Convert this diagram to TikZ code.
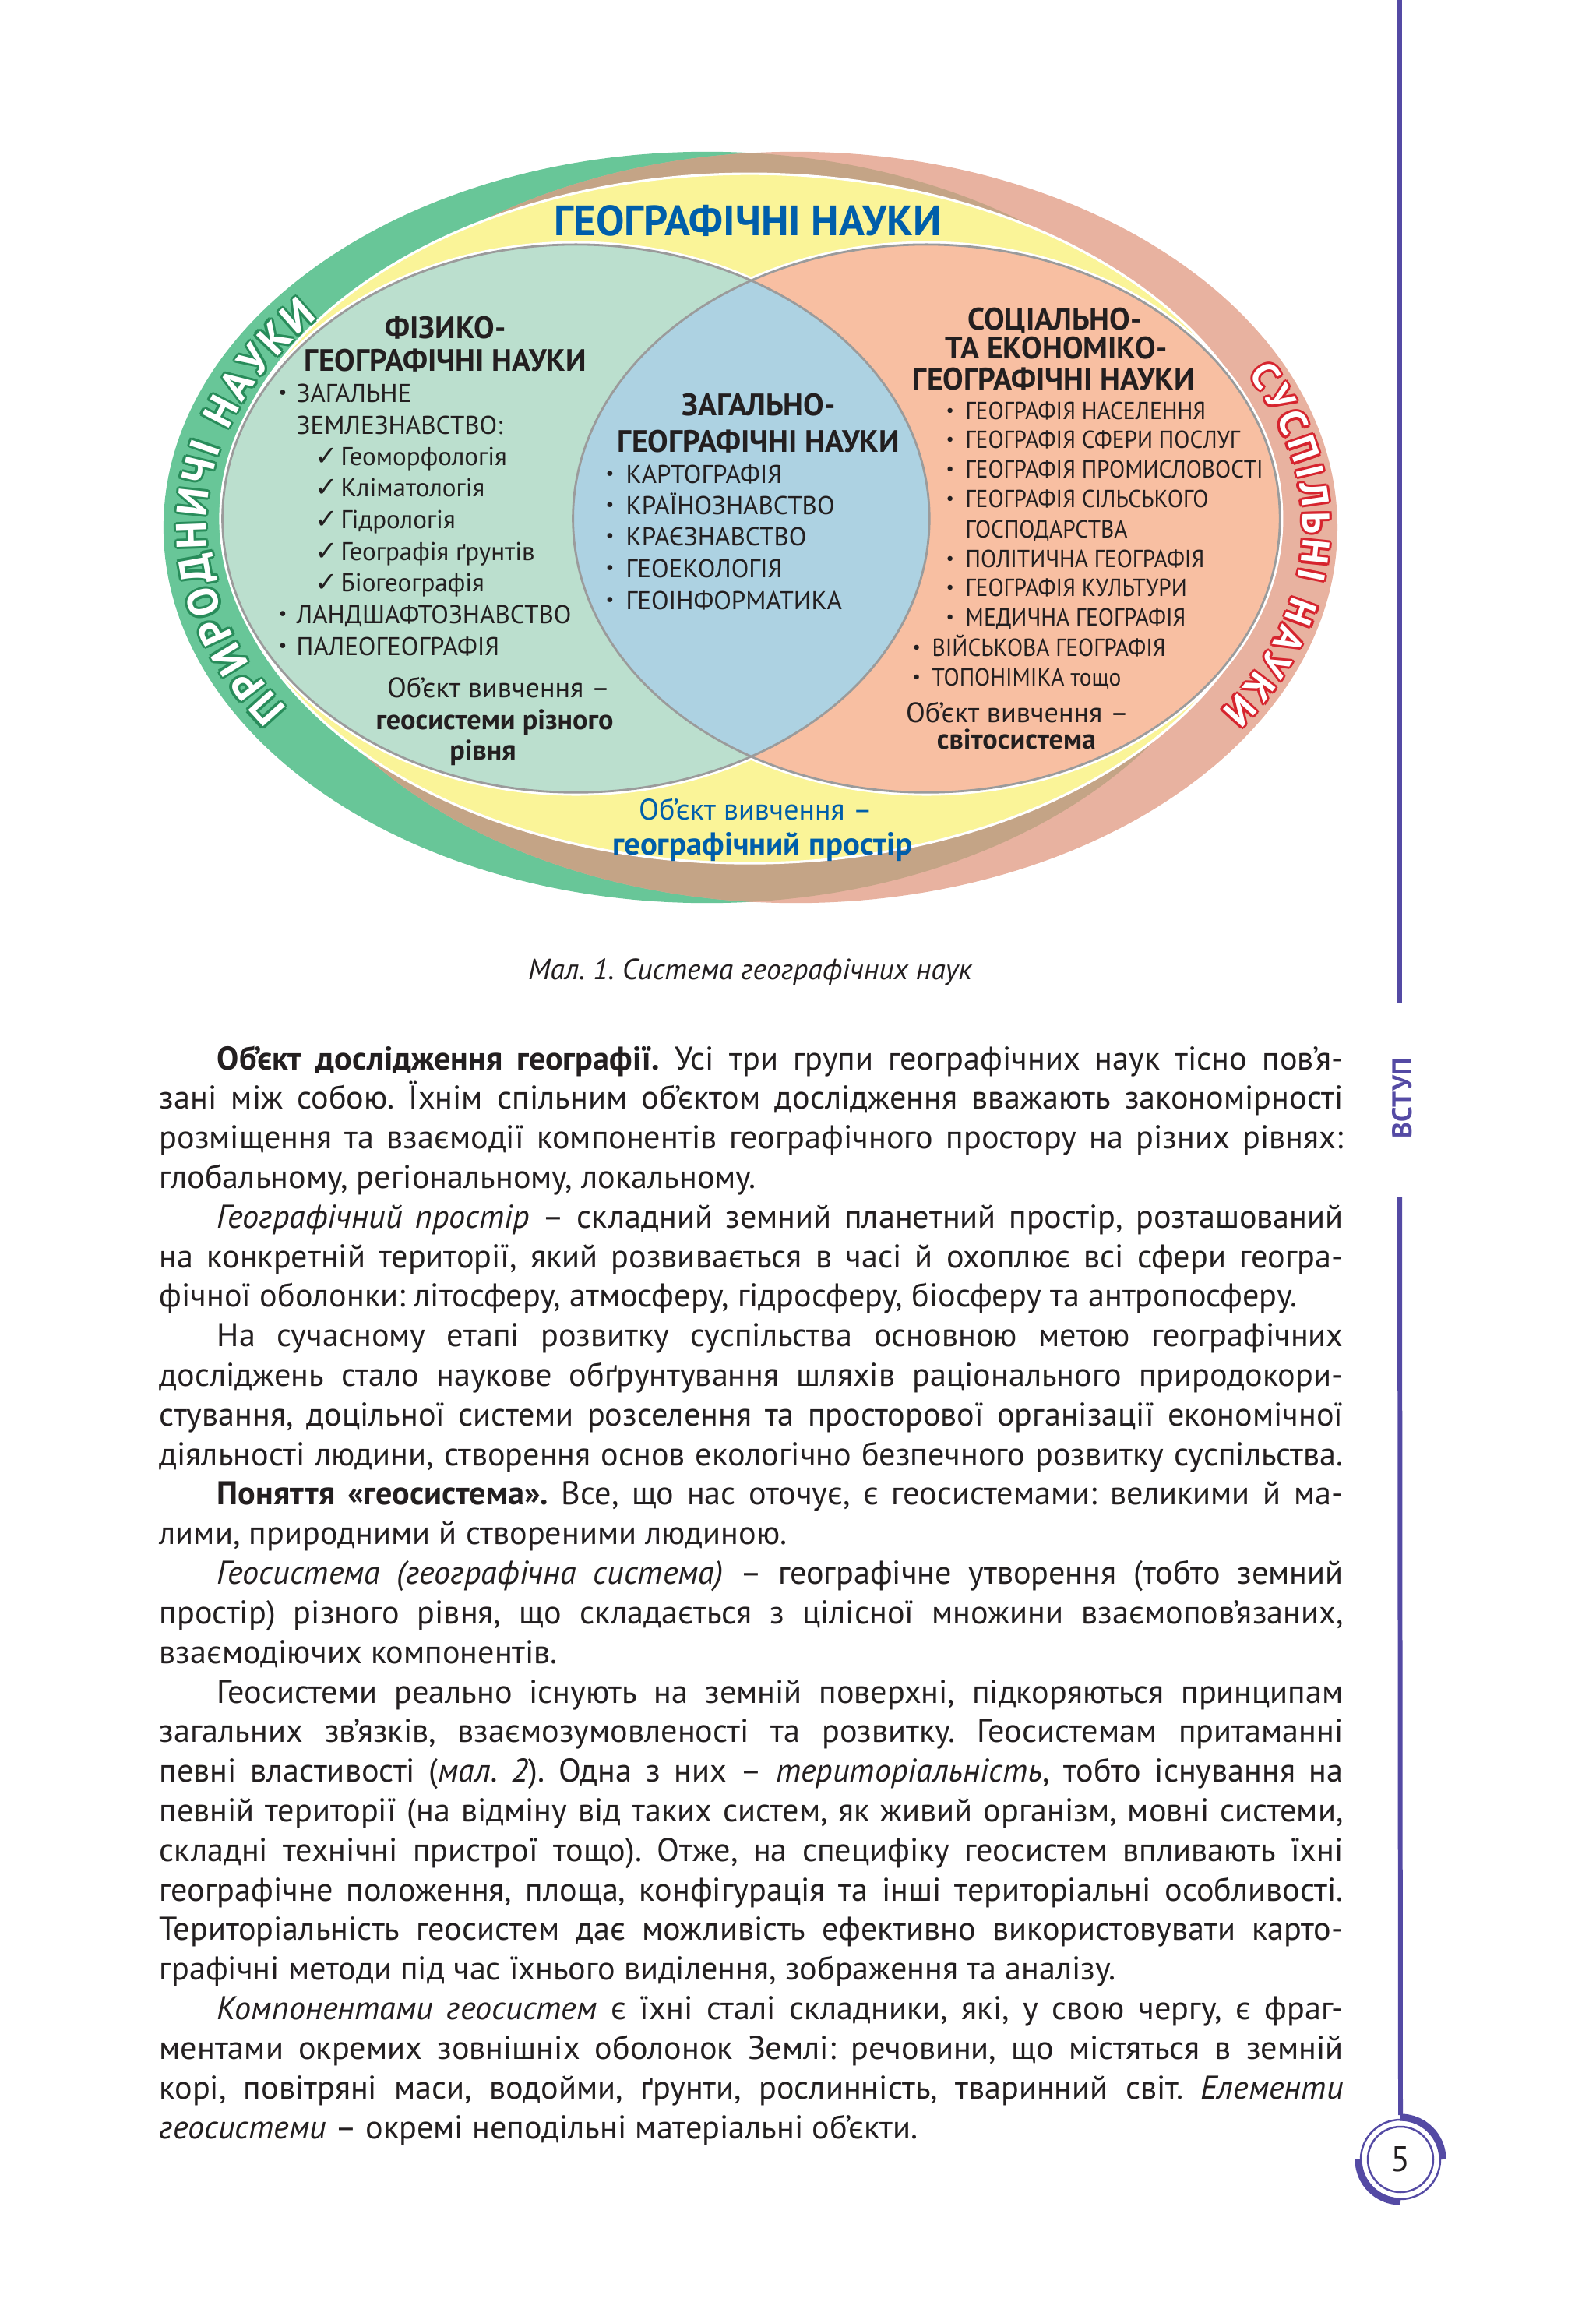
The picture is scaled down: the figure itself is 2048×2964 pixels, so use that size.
\documentclass[tikz,border=0pt]{standalone}
\usepackage{fontspec}
\setmainfont{PT Sans}
\newfontfamily\symf{DejaVu Sans}
\usepackage{graphicx}
\usetikzlibrary{decorations.text}
\definecolor{grband}{RGB}{104,198,152}
\definecolor{grline}{RGB}{40,140,90}
\definecolor{pkband}{RGB}{232,178,160}
\definecolor{pkline}{RGB}{214,36,46}
\definecolor{brov}{RGB}{196,164,134}
\definecolor{yel}{RGB}{250,244,152}
\definecolor{lgreen}{RGB}{187,223,206}
\definecolor{salmon}{RGB}{248,191,162}
\definecolor{lensc}{RGB}{173,210,226}
\definecolor{rim}{RGB}{155,155,155}
\definecolor{tblue}{RGB}{0,94,170}
\definecolor{purp}{RGB}{84,74,164}
\definecolor{txt}{RGB}{35,31,32}
\frenchspacing
\newlength\tw \setlength\tw{15.19cm}
\newlength\lnw
\newcommand\jl[1]{\settowidth\lnw{#1}\ifdim\lnw>\tw\relax\scalebox{\fpeval{\the\tw/\the\lnw}}[1]{#1}\else\makebox[\tw][s]{#1}\fi\par}
\newcommand\lastl[1]{\settowidth\lnw{#1}\ifdim\lnw>\tw\relax\scalebox{\fpeval{\the\tw/\the\lnw}}[1]{#1}\else #1\fi\par}
\newcommand\ind{\hspace*{0.74cm}}
\newcommand\bul[1]{\makebox[#1][l]{\raisebox{0.25ex}{\scalebox{0.72}{\textbullet}}}}
\newcommand\chk{\makebox[0.33cm][l]{{\symf\fontsize{10pt}{11pt}\selectfont ✓}}}
\newcommand\rsq[1]{\scalebox{0.93}[1]{#1}}
\begin{document}
\begin{tikzpicture}[x=0.01cm,y=0.01cm,
  hd/.style={font=\bfseries\fontsize{11.3pt}{13pt}\selectfont, anchor=base, inner sep=0, text=txt},
  li/.style={font=\fontsize{9.4pt}{11pt}\selectfont, anchor=base west, inner sep=0, text=txt},
  ri/.style={font=\fontsize{9pt}{11pt}\selectfont, anchor=base west, inner sep=0, text=txt},
  ob/.style={font=\fontsize{10.3pt}{12pt}\selectfont, anchor=base, inner sep=0, text=txt},
  obb/.style={font=\bfseries\fontsize{10.3pt}{12pt}\selectfont, anchor=base, inner sep=0, text=txt}]
\useasboundingbox (0,0) rectangle (2048,-2964);
\fill[white] (0,0) rectangle (2048,-2964);
% centres
\coordinate (gc) at (907.7,-677);
\coordinate (pc) at (1021.1,-677);
\coordinate (yc) at (962.5,-665.6);
\coordinate (lc) at (739.4,-665.6);
\coordinate (rc) at (1189.4,-665.6);
% outer bands
\fill[grband] (gc) ellipse [x radius=697.8, y radius=482.2];
\fill[pkband] (pc) ellipse [x radius=695.9, y radius=482.2];
\begin{scope}
  \clip (pc) ellipse [x radius=695.9, y radius=482.2];
  \fill[brov] (gc) ellipse [x radius=697.8, y radius=482.2];
\end{scope}
\filldraw[fill=yel, draw=white, line width=0.9pt] (yc) ellipse [x radius=677, y radius=442.5];
% inner circles
\draw[white, line width=2.4pt] (lc) ellipse [x radius=453.8, y radius=351.7];
\draw[white, line width=2.4pt] (rc) ellipse [x radius=453.8, y radius=351.7];
\fill[lgreen] (lc) ellipse [x radius=453.8, y radius=351.7];
\fill[salmon] (rc) ellipse [x radius=453.8, y radius=351.7];
\begin{scope}
  \clip (lc) ellipse [x radius=453.8, y radius=351.7];
  \fill[lensc] (rc) ellipse [x radius=453.8, y radius=351.7];
\end{scope}
\draw[rim, line width=0.8pt] (lc) ellipse [x radius=453.8, y radius=351.7];
\draw[rim, line width=0.8pt] (rc) ellipse [x radius=453.8, y radius=351.7];
% arc texts
\foreach \dx/\dy/\col in {0.9/0/grline,-0.9/0/grline,0/0.9/grline,0/-0.9/grline,0.64/0.64/grline,-0.64/0.64/grline,0.64/-0.64/grline,-0.64/-0.64/grline,0/0/white}{
  \path[decorate, xshift=\dx pt, yshift=\dy pt,
    decoration={text along path, text color=\col, text align=fit to path,
      text={|\bfseries\fontsize{15.5pt}{15pt}\selectfont|ПРИРОДНИЧІ НАУКИ}}]
    ([shift={(213:643 and 427)}]907.7,-677) arc[start angle=213, end angle=141, x radius=643, y radius=427];
}
\foreach \dx/\dy/\col in {0.9/0/pkline,-0.9/0/pkline,0/0.9/pkline,0/-0.9/pkline,0.64/0.64/pkline,-0.64/0.64/pkline,0.64/-0.64/pkline,-0.64/-0.64/pkline,0/0/white}{
  \path[decorate, xshift=\dx pt, yshift=\dy pt,
    decoration={text along path, text color=\col, text align=fit to path,
      text={|\bfseries\fontsize{14pt}{14pt}\selectfont|СУСПІЛЬНІ НАУКИ}}]
    ([shift={(27:652 and 432)}]1021.1,-677) arc[start angle=27, end angle=-33, x radius=652, y radius=432];
}
% title
\node[font=\bfseries\fontsize{15.5pt}{17pt}\selectfont, text=tblue, anchor=base, inner sep=0] (title) at (960,-303) {ГЕОГРАФІЧНІ НАУКИ};
% left block
\node[hd] (lh1) at (572,-435) {ФІЗИКО-};
\node[hd] (lh2) at (572,-476) {ГЕОГРАФІЧНІ НАУКИ};
\node[li] (fl1) at (357,-516) {\bul{0.23cm}ЗАГАЛЬНЕ};
\node[li] (fl2) at (357,-557) {\hspace*{0.23cm}ЗЕМЛЕЗНАВСТВО:};
\node[li] (fl3) at (404,-597) {\chk Геоморфологія};
\node[li] (fl4) at (404,-637) {\chk Кліматологія};
\node[li] (fl5) at (404,-678) {\chk Гідрологія};
\node[li] (fl6) at (404,-719) {\chk Географія ґрунтів};
\node[li] (fl7) at (404,-759) {\chk Біогеографія};
\node[li] (fl8) at (357,-800) {\bul{0.23cm}ЛАНДШАФТОЗНАВСТВО};
\node[li] (fl9) at (357,-841) {\bul{0.23cm}ПАЛЕОГЕОГРАФІЯ};
\node[ob] (lo1) at (640,-895) {Об’єкт вивчення –};
\node[obb] (lo2) at (635,-936) {геосистеми різного};
\node[obb] (lo3) at (620,-975) {рівня};
% centre block
\node[hd] (ch1) at (974,-533) {ЗАГАЛЬНО-};
\node[hd] (ch2) at (974,-580) {ГЕОГРАФІЧНІ НАУКИ};
\node[li] (cl1) at (777,-620) {\bul{0.26cm}КАРТОГРАФІЯ};
\node[li] (cl2) at (777,-660) {\bul{0.26cm}КРАЇНОЗНАВСТВО};
\node[li] (cl3) at (777,-700) {\bul{0.26cm}КРАЄЗНАВСТВО};
\node[li] (cl4) at (777,-741) {\bul{0.26cm}ГЕОЕКОЛОГІЯ};
\node[li] (cl5) at (777,-782) {\bul{0.26cm}ГЕОІНФОРМАТИКА};
% right block
\node[hd] (rh1) at (1354,-423) {СОЦІАЛЬНО-};
\node[hd] (rh2) at (1356,-461) {ТА ЕКОНОМІКО-};
\node[hd] (rh3) at (1353,-500) {ГЕОГРАФІЧНІ НАУКИ};
\node[ri] (rl1) at (1214,-538) {\bul{0.25cm}\rsq{ГЕОГРАФІЯ НАСЕЛЕННЯ}};
\node[ri] (rl2) at (1214,-575) {\bul{0.25cm}\rsq{ГЕОГРАФІЯ СФЕРИ ПОСЛУГ}};
\node[ri] (rl3) at (1214,-613) {\bul{0.25cm}\rsq{ГЕОГРАФІЯ ПРОМИСЛОВОСТІ}};
\node[ri] (rl4) at (1214,-651) {\bul{0.25cm}\rsq{ГЕОГРАФІЯ СІЛЬСЬКОГО}};
\node[ri] (rl5) at (1214,-690) {\hspace*{0.25cm}\rsq{ГОСПОДАРСТВА}};
\node[ri] (rl6) at (1214,-728) {\bul{0.25cm}\rsq{ПОЛІТИЧНА ГЕОГРАФІЯ}};
\node[ri] (rl7) at (1214,-765) {\bul{0.25cm}\rsq{ГЕОГРАФІЯ КУЛЬТУРИ}};
\node[ri] (rl8) at (1214,-803) {\bul{0.25cm}\rsq{МЕДИЧНА ГЕОГРАФІЯ}};
\node[ri] (rl9) at (1171,-842) {\bul{0.25cm}\rsq{ВІЙСЬКОВА ГЕОГРАФІЯ}};
\node[ri] (rl10) at (1171,-880) {\bul{0.25cm}\rsq{ТОПОНІМІКА тощо}};
\node[ob] (ro1) at (1306,-927) {Об’єкт вивчення –};
\node[obb] (ro2) at (1305,-961) {світосистема};
% bottom
\node[font=\fontsize{10.8pt}{12pt}\selectfont, text=tblue, anchor=base, inner sep=0] (bo1) at (970,-1052) {Об’єкт вивчення –};
\node[font=\bfseries\fontsize{11.6pt}{13pt}\selectfont, text=tblue, anchor=base, inner sep=0] (bo2) at (979,-1097) {географічний простір};
% caption
\node[font=\itshape\fontsize{10.7pt}{12pt}\selectfont, text=txt, anchor=base, inner sep=0] (cap) at (963,-1257) {Мал. 1. Система географічних наук};
% body
\node[anchor=base west, inner sep=0, text=txt] (body) at (204,-1373) {\parbox[t]{\tw}{\fontsize{12pt}{14.45pt}\selectfont
\jl{\ind\textbf{Об’єкт дослідження географії.} Усі три групи географічних наук тісно пов’я-}
\jl{зані між собою. Їхнім спільним об’єктом дослідження вважають закономірності}
\jl{розміщення та взаємодії компонентів географічного простору на різних рівнях:}
\lastl{глобальному, регіональному, локальному.}
\jl{\ind\textit{Географічний простір} – складний земний планетний простір, розташований}
\jl{на конкретній території, який розвивається в часі й охоплює всі сфери геогра-}
\lastl{фічної оболонки: літосферу, атмосферу, гідросферу, біосферу та антропосферу.}
\jl{\ind На сучасному етапі розвитку суспільства основною метою географічних}
\jl{досліджень стало наукове обґрунтування шляхів раціонального природокори-}
\jl{стування, доцільної системи розселення та просторової організації економічної}
\jl{діяльності людини, створення основ екологічно безпечного розвитку суспільства.}
\jl{\ind\textbf{Поняття «геосистема».} Все, що нас оточує, є геосистемами: великими й ма-}
\lastl{лими, природними й створеними людиною.}
\jl{\ind\textit{Геосистема (географічна система)} – географічне утворення (тобто земний}
\jl{простір) різного рівня, що складається з цілісної множини взаємопов’язаних,}
\lastl{взаємодіючих компонентів.}
\jl{\ind Геосистеми реально існують на земній поверхні, підкоряються принципам}
\jl{загальних зв’язків, взаємозумовленості та розвитку. Геосистемам притаманні}
\jl{певні властивості (\textit{мал. 2}). Одна з них – \textit{територіальність}, тобто існування на}
\jl{певній території (на відміну від таких систем, як живий організм, мовні системи,}
\jl{складні технічні пристрої тощо). Отже, на специфіку геосистем впливають їхні}
\jl{географічне положення, площа, конфігурація та інші територіальні особливості.}
\jl{Територіальність геосистем дає можливість ефективно використовувати карто-}
\lastl{графічні методи під час їхнього виділення, зображення та аналізу.}
\jl{\ind\textit{Компонентами геосистем} є їхні сталі складники, які, у свою чергу, є фраг-}
\jl{ментами окремих зовнішніх оболонок Землі: речовини, що містяться в земній}
\jl{корі, повітряні маси, водойми, ґрунти, рослинність, тваринний світ. \textit{Елементи}}
\lastl{\textit{геосистеми} – окремі неподільні матеріальні об’єкти.}
}};
% side bar
\coordinate (st) at (1797,0);
\coordinate (s1) at (1797,-1287);
\coordinate (s2) at (1797,-1537);
\coordinate (pg) at (1798,-2772);
\draw[purp, line width=1.7pt] (st) -- (s1);
\node[rotate=90, font=\bfseries\fontsize{10pt}{12pt}\selectfont, text=purp, inner sep=0] (vstup) at (1800,-1410) {ВСТУП};
\draw[purp, line width=1.7pt] (s2) -- ([yshift=0.57cm]pg);
\draw[purp, line width=0.7pt] (pg) circle[radius=51];
\draw[purp, line width=0.7pt] (pg) circle[radius=42];
\draw[purp, line width=2.6pt] ([shift={(90:54)}]pg) arc[start angle=90, end angle=0, radius=54];
\draw[purp, line width=2.6pt] ([shift={(180:54)}]pg) arc[start angle=180, end angle=270, radius=54];
\node[font=\fontsize{13pt}{14pt}\selectfont, text=txt, inner sep=0] (pnum) at (pg) {5};
\end{tikzpicture}
\end{document}
